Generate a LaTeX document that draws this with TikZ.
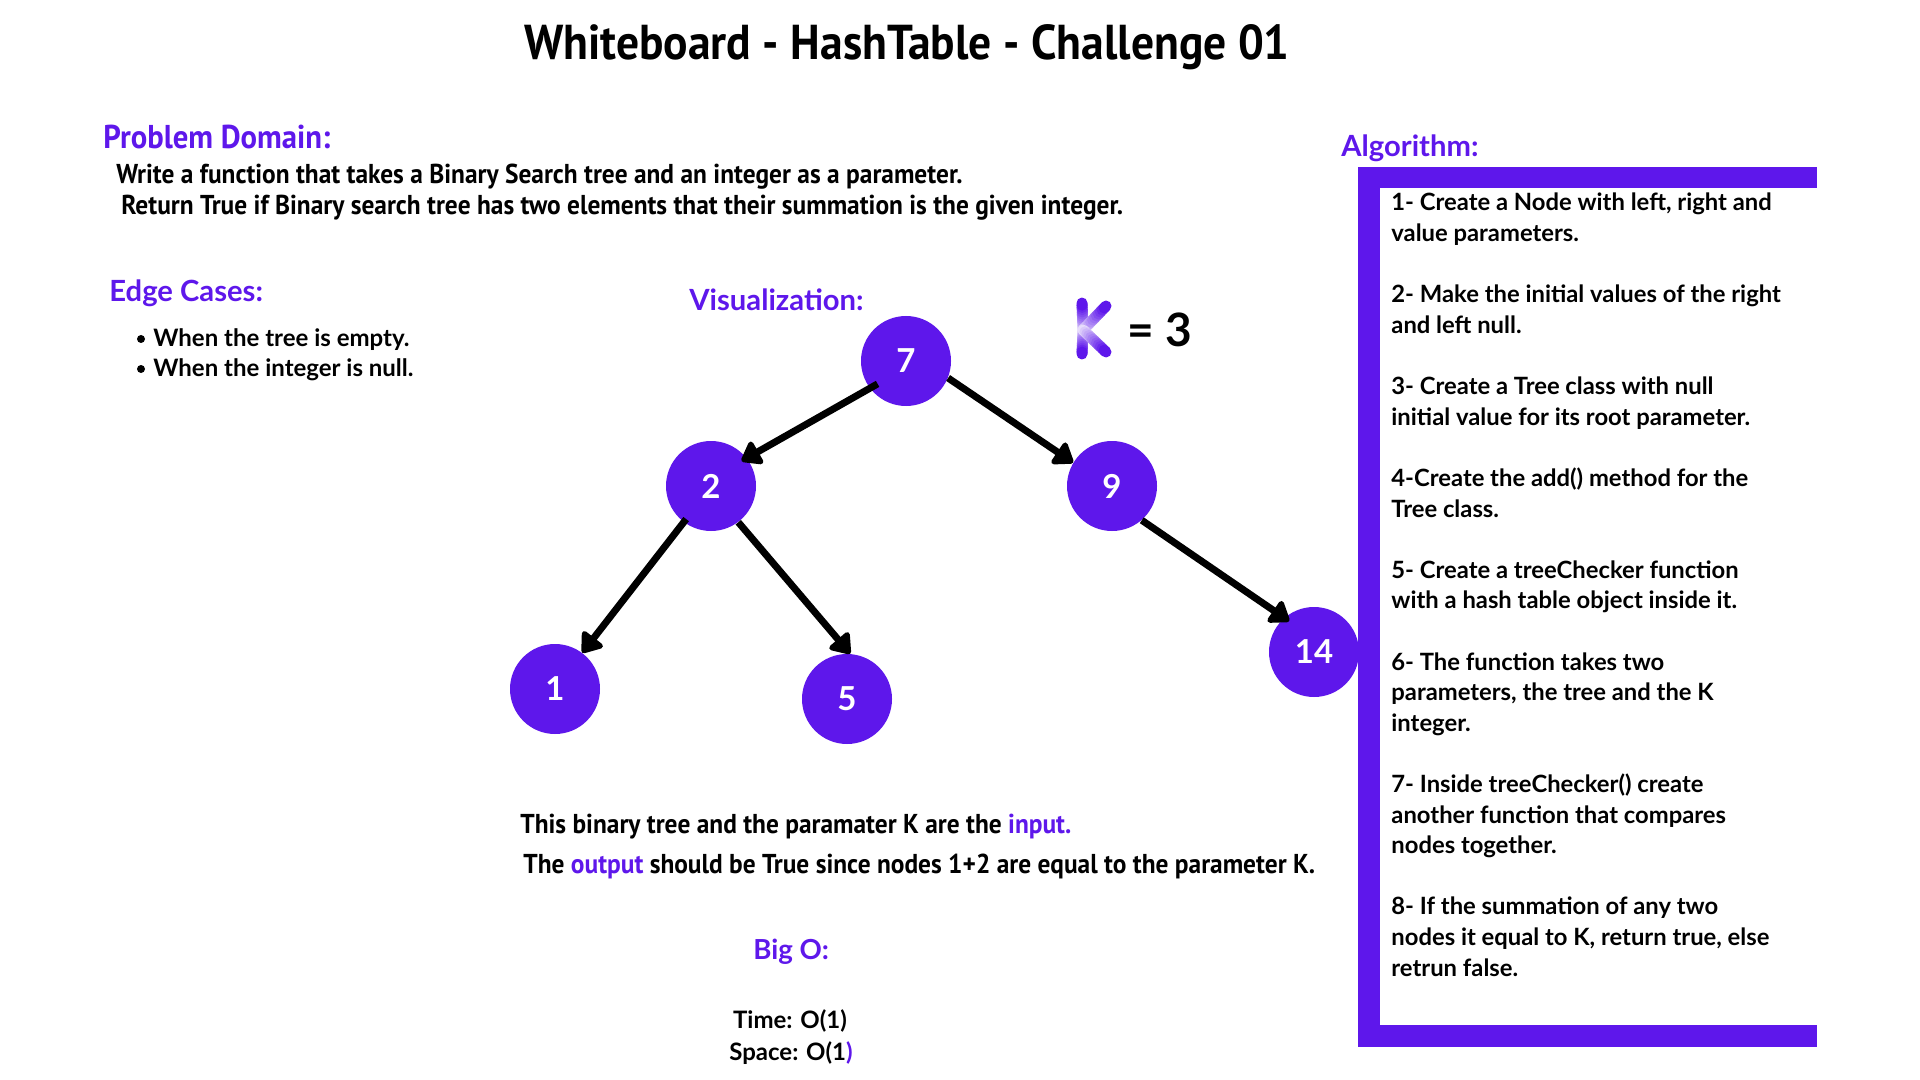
\documentclass[tikz,border=0pt]{standalone}
\usepackage{fontspec}
\setmainfont{Lato}
\newfontfamily\cond[FakeStretch=0.93]{PT Sans}
\usetikzlibrary{arrows.meta}
\definecolor{pp}{RGB}{94,23,235}
\tikzset{
  ttl/.style={font=\cond\bfseries\fontsize{24.5pt}{28pt}\selectfont, inner sep=0, anchor=base},
  phd/.style={font=\cond\bfseries\fontsize{16.5pt}{18pt}\selectfont, text=pp, inner sep=0, anchor=base west},
  ctxt/.style={font=\cond\bfseries\fontsize{13.65pt}{15pt}\selectfont, inner sep=0, anchor=base west},
  hd/.style={font=\bfseries\fontsize{14.6pt}{16pt}\selectfont, text=pp, inner sep=0, anchor=base west},
  btxt/.style={font=\bfseries\fontsize{12pt}{14pt}\selectfont, inner sep=0, anchor=base west},
  atxt/.style={font=\bfseries\fontsize{11.9pt}{14pt}\selectfont, inner sep=0, anchor=base west},
  otxt/.style={font=\bfseries\fontsize{12pt}{14pt}\selectfont, inner sep=0, anchor=base},
  tn/.style={circle, fill=pp, minimum size=45pt, inner sep=0, text=white,
             font=\bfseries\fontsize{16.5pt}{18pt}\selectfont},
  arr/.style={line width=3.5pt, -{Triangle[round,length=10.5pt,width=14.5pt]}},
  frame/.style={fill=pp}
}
\begin{document}
\begin{tikzpicture}[x=0.5pt,y=-0.5pt]
\fill[white] (0,0) rectangle (1920,1080);
\useasboundingbox (0,0) rectangle (1920,1080);

% title
\node[ttl] (title) at (907,60) {Whiteboard - HashTable - Challenge 01};

% problem domain
\node[phd] (pdh) at (103,149) {Problem Domain:};
\node[ctxt] (pd1) at (116,184) {Write a function that takes a Binary Search tree and an integer as a parameter.};
\node[ctxt] (pd2) at (121,215) {Return True if Binary search tree has two elements that their summation is the given integer.};

% edge cases
\node[hd] (ech) at (109,302) {Edge Cases:};
\fill (141,339) circle[radius=2pt];
\fill (141,369) circle[radius=2pt];
\node[btxt] (ec1) at (153,347) {When the tree is empty.};
\node[btxt] (ec2) at (153,377) {When the integer is null.};

% visualization
\node[hd] (vis) at (689,311) {Visualization:};

% K = 3
\foreach \ex/\ey in {1082/303, 1082/354, 1106/306, 1106/352}{
  \foreach \i in {0,...,11}{
    \pgfmathsetmacro{\pa}{\i/12}
    \pgfmathsetmacro{\pb}{(\i+1)/12}
    \pgfmathsetmacro{\cc}{int(8+92*(\i+1)/12)}
    \draw[line width=5.5pt, line cap=round, color=pp!\cc!white]
      ({1083+\pa*(\ex-1083)},{330+\pa*(\ey-330)}) -- ({1083+\pb*(\ex-1083)},{330+\pb*(\ey-330)});
  }
}
\node[font=\bfseries\fontsize{23pt}{26pt}\selectfont, inner sep=0, anchor=base west] (keq) at (1127,347) {= 3};

% tree nodes
\node[tn] (n7) at (906,361) {7};
\node[tn] (n2) at (711,486) {2};
\node[tn] (n9) at (1112,486) {9};
\node[tn] (n1) at (555,689) {1};
\node[tn] (n5) at (847,699) {5};
\node[tn] (n14) at (1314,652) {14};

\draw[arr, shorten <=-4.5pt, shorten >=-3pt] (n7.-143) -- (n2.38);
\draw[arr] (n7.-22) -- (n9.149);
\draw[arr, shorten <=-2pt] (n2.-127) -- (n1.53);
\draw[arr] (n2.-53) -- (n5.86);
\draw[arr, shorten >=-3pt] (n9.-49) -- (n14.131);

% input/output
\node[ctxt] (in) at (520,833) {This binary tree and the paramater K are the \textcolor{pp}{input.}};
\node[ctxt] (out) at (523,873) {The \textcolor{pp}{output} should be True since nodes 1+2 are equal to the parameter K.};

% Big O
\node[hd, font=\bfseries\fontsize{13.8pt}{16pt}\selectfont] (bigo) at (753,959) {Big O:};
\node[otxt] (time) at (790,1028) {Time: O(1)};
\node[otxt] (space) at (791,1060) {Space: O(1\textcolor{pp}{)}};

% algorithm
\node[hd] (algh) at (1341,157) {Algorithm:};
\fill[frame] (1358,167) rectangle (1817,188);
\fill[frame] (1358,167) rectangle (1380,1047);
\fill[frame] (1358,1025) rectangle (1817,1047);
\foreach \k/\t in {
  0/{1- Create a Node with left, right and},
  1/{value parameters.},
  3/{2- Make the initial values of the right},
  4/{and left null.},
  6/{3- Create a Tree class with null},
  7/{initial value for its root parameter.},
  9/{4-Create the add() method for the},
  10/{Tree class.},
  12/{5- Create a treeChecker function},
  13/{with a hash table object inside it.},
  15/{6- The function takes two},
  16/{parameters, the tree and the K},
  17/{integer.},
  19/{7- Inside treeChecker() create},
  20/{another function that compares},
  21/{nodes together.},
  23/{8- If the summation of any two},
  24/{nodes it equal to K, return true, else},
  25/{retrun false.}}{
  \node[atxt] (alg\k) at (1391,{211+30.6*\k}) {\t};
}
\end{tikzpicture}
\end{document}
